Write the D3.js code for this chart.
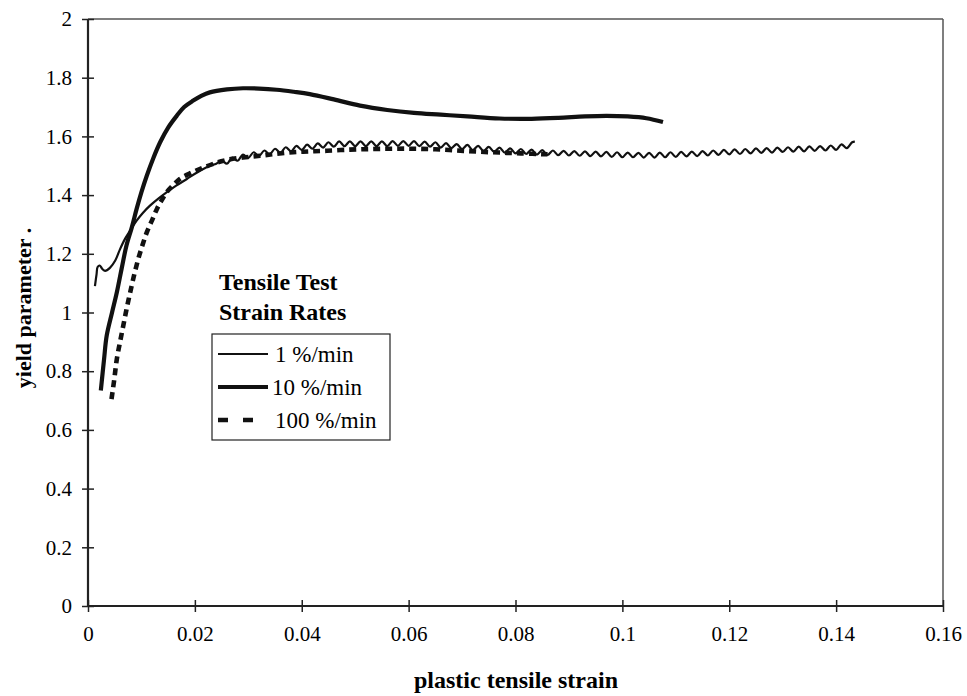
<html>
<head>
<title>Yield parameter vs plastic tensile strain</title>
<script src="https://d3js.org/d3.v7.min.js"></script>
<style>
body { margin: 0; background: #ffffff; }
svg { font-family: 'Liberation Serif', 'Times New Roman', serif; }
.tick text { font-size: 21px; fill: #000; font-family: 'Liberation Serif', 'Times New Roman', serif; }
.tick line { stroke: #222; stroke-width: 1.5px; }
.domain { display: none; }
</style>
</head>
<body>
<svg id="chart" width="967" height="696"></svg>
<script>
// axis ticks
var strainTicks = [0, 0.02, 0.04, 0.06, 0.08, 0.1, 0.12, 0.14, 0.16];
var strainTickLabels = ["0", "0.02", "0.04", "0.06", "0.08", "0.1", "0.12", "0.14", "0.16"];
var yieldTicks = [0, 0.2, 0.4, 0.6, 0.8, 1, 1.2, 1.4, 1.6, 1.8, 2];
var yieldTickLabels = ["0", "0.2", "0.4", "0.6", "0.8", "1", "1.2", "1.4", "1.6", "1.8", "2"];

var rateNames = ["1 %/min", "10 %/min", "100 %/min"];

// 1 %/min  [strain, yield parameter] - thin wavy line
var rate1 = [
  [0.0013,1.090],[0.0016,1.130],[0.0018,1.155],[0.0022,1.160],[0.0027,1.148],[0.0032,1.142],
  [0.0041,1.152],[0.0051,1.177],[0.0060,1.216],[0.0069,1.250],[0.0079,1.279],[0.0091,1.313],
  [0.0103,1.340],[0.0116,1.364],[0.0131,1.387],[0.0147,1.409],[0.0165,1.432],[0.0185,1.455],
  [0.0205,1.478],[0.0228,1.500],[0.0240,1.507],
  [0.025,1.518],[0.026,1.507],[0.027,1.528],[0.028,1.517],[0.029,1.538],[0.030,1.527],
  [0.031,1.546],[0.032,1.533],[0.033,1.552],[0.034,1.539],[0.035,1.558],[0.036,1.544],
  [0.037,1.563],[0.038,1.549],[0.039,1.568],[0.040,1.554],[0.041,1.572],[0.042,1.558],
  [0.043,1.576],[0.044,1.562],[0.045,1.580],[0.046,1.565],[0.047,1.583],[0.048,1.567],
  [0.049,1.583],[0.050,1.567],[0.051,1.583],[0.052,1.567],[0.053,1.583],[0.054,1.567],
  [0.055,1.583],[0.056,1.567],[0.057,1.584],[0.058,1.568],[0.059,1.584],[0.060,1.568],
  [0.061,1.584],[0.062,1.567],[0.063,1.582],[0.064,1.565],[0.065,1.580],[0.066,1.562],
  [0.067,1.577],[0.068,1.560],[0.069,1.574],[0.070,1.557],[0.071,1.571],[0.072,1.553],
  [0.073,1.568],[0.074,1.550],[0.075,1.564],[0.076,1.547],[0.077,1.562],[0.078,1.545],
  [0.079,1.559],[0.080,1.542],[0.081,1.557],[0.082,1.540],[0.083,1.555],[0.084,1.538],
  [0.085,1.553],[0.086,1.537],[0.087,1.552],[0.088,1.536],[0.089,1.551],[0.090,1.535],
  [0.091,1.550],[0.092,1.534],[0.093,1.549],[0.094,1.533],[0.095,1.548],[0.096,1.532],
  [0.097,1.547],[0.098,1.530],[0.099,1.546],[0.100,1.529],[0.101,1.545],[0.102,1.529],
  [0.103,1.544],[0.104,1.528],[0.105,1.544],[0.106,1.528],[0.107,1.545],[0.108,1.529],
  [0.109,1.546],[0.110,1.530],[0.111,1.547],[0.112,1.532],[0.113,1.548],[0.114,1.533],
  [0.115,1.550],[0.116,1.535],[0.117,1.552],[0.118,1.537],[0.119,1.554],[0.120,1.539],
  [0.121,1.556],[0.122,1.540],[0.123,1.557],[0.124,1.542],[0.125,1.559],[0.126,1.544],
  [0.127,1.560],[0.128,1.545],[0.129,1.562],[0.130,1.547],[0.131,1.563],[0.132,1.548],
  [0.133,1.565],[0.134,1.549],[0.135,1.566],[0.136,1.551],[0.137,1.567],[0.138,1.552],
  [0.139,1.569],[0.140,1.554],[0.141,1.573],[0.142,1.560],[0.143,1.580],[0.1435,1.582]
];

// 10 %/min - thick solid line
var rate10 = [
  [0.0024,0.734],[0.0030,0.840],[0.0035,0.921],[0.0045,1.000],[0.0054,1.069],[0.0063,1.150],
  [0.0072,1.228],[0.0082,1.290],[0.0091,1.353],[0.0100,1.410],[0.0110,1.466],[0.0122,1.525],
  [0.0135,1.580],[0.0150,1.630],[0.0166,1.670],[0.0180,1.700],[0.0197,1.722],[0.0212,1.738],
  [0.0228,1.750],[0.0260,1.760],[0.0290,1.764],[0.0320,1.763],[0.0353,1.759],[0.0385,1.752],
  [0.0415,1.744],[0.0460,1.726],[0.0509,1.705],[0.0560,1.690],[0.0610,1.680],[0.0660,1.674],
  [0.0710,1.668],[0.0770,1.661],[0.0830,1.660],[0.0880,1.663],[0.0930,1.668],[0.0970,1.670],
  [0.1010,1.668],[0.1045,1.662],[0.1076,1.649]
];

// 100 %/min - dashed line
var rate100 = [
  [0.0044,0.705],[0.0049,0.770],[0.0054,0.842],[0.0060,0.900],[0.0066,0.955],[0.0072,1.010],
  [0.0079,1.069],[0.0086,1.125],[0.0094,1.182],[0.0102,1.230],[0.0110,1.273],[0.0120,1.315],
  [0.0129,1.353],[0.0138,1.383],[0.0147,1.409],[0.0160,1.435],[0.0172,1.455],[0.0190,1.473],
  [0.0210,1.489],[0.0235,1.507],[0.0260,1.520],[0.0290,1.528],[0.0322,1.534],[0.0350,1.540],
  [0.0384,1.546],[0.0415,1.549],[0.0447,1.551],[0.0490,1.555],[0.0530,1.557],[0.0570,1.558],
  [0.0610,1.558],[0.0650,1.556],[0.0690,1.552],[0.0730,1.548],[0.0770,1.545],[0.0810,1.542],
  [0.0860,1.539]
];

var svg = d3.select("#chart");
var plotLeft = 88, plotRight = 943, plotTop = 19, plotBottom = 606;

var x = d3.scaleLinear().domain([0, 0.16]).range([plotLeft, plotRight]);
var y = d3.scaleLinear().domain([0, 2]).range([plotBottom, plotTop]);

svg.append("rect").attr("width", 967).attr("height", 696).style("fill", "#fff");

// frame: top/right lighter, left/bottom heavy
svg.append("line").attr("x1", plotLeft).attr("x2", plotRight).attr("y1", plotTop).attr("y2", plotTop)
  .style("stroke", "#555").style("stroke-width", 1.5);
svg.append("line").attr("x1", plotRight).attr("x2", plotRight).attr("y1", plotTop).attr("y2", plotBottom)
  .style("stroke", "#555").style("stroke-width", 1.5);

// x axis
var xAxis = svg.append("g")
  .attr("transform", "translate(0," + plotBottom + ")")
  .call(d3.axisBottom(x).tickValues(strainTicks)
    .tickFormat(function (d, i) { return strainTickLabels[i]; })
    .tickSize(6).tickPadding(14));
xAxis.attr("font-family", null).attr("font-size", null);
xAxis.selectAll(".tick line").attr("y1", -6);

// y axis
var yAxis = svg.append("g")
  .attr("transform", "translate(" + plotLeft + ",0)")
  .call(d3.axisLeft(y).tickValues(yieldTicks)
    .tickFormat(function (d, i) { return yieldTickLabels[i]; })
    .tickSize(6).tickPadding(10));
yAxis.attr("font-family", null).attr("font-size", null);
yAxis.selectAll(".tick line").attr("x1", 6);

svg.append("line").attr("x1", plotLeft).attr("x2", plotRight).attr("y1", plotBottom).attr("y2", plotBottom)
  .style("stroke", "#222").style("stroke-width", 2.2);
svg.append("line").attr("x1", plotLeft).attr("x2", plotLeft).attr("y1", plotTop).attr("y2", plotBottom)
  .style("stroke", "#222").style("stroke-width", 2.2);

// axis titles
svg.append("text")
  .attr("x", 516)
  .attr("y", 688)
  .attr("text-anchor", "middle")
  .style("font-size", "24px")
  .style("font-weight", "bold")
  .text("plastic tensile strain");

svg.append("text")
  .attr("transform", "translate(31,308) rotate(-90)")
  .attr("text-anchor", "middle")
  .style("font-size", "22px")
  .style("font-weight", "bold")
  .text("yield parameter  .");

// curves
var line = d3.line()
  .x(function (d) { return x(d[0]); })
  .y(function (d) { return y(d[1]); })
  .curve(d3.curveCatmullRom.alpha(0.5));

var lineStyles = [
  { data: rate1, width: 2.2, dash: null },
  { data: rate10, width: 4.2, dash: null },
  { data: rate100, width: 4.6, dash: "7,5" }
];

lineStyles.forEach(function (s) {
  svg.append("path")
    .attr("d", line(s.data))
    .style("fill", "none")
    .style("stroke", "#111")
    .style("stroke-width", s.width)
    .style("stroke-dasharray", s.dash)
    .style("stroke-linecap", "butt");
});

// legend
svg.append("text").attr("x", 219).attr("y", 290)
  .style("font-size", "24px").style("font-weight", "bold").text("Tensile Test");
svg.append("text").attr("x", 219).attr("y", 320)
  .style("font-size", "24px").style("font-weight", "bold").text("Strain Rates");

svg.append("rect")
  .attr("x", 212).attr("y", 334).attr("width", 178).attr("height", 106)
  .style("fill", "#fff").style("stroke", "#222").style("stroke-width", 1.2);

var legendRows = svg.selectAll("g.legend-row")
  .data(lineStyles)
  .enter().append("g")
  .attr("class", "legend-row")
  .attr("transform", function (d, i) { return "translate(0," + (354 + i * 33) + ")"; });

legendRows.append("line")
  .attr("x1", 218).attr("x2", 268).attr("y1", 0).attr("y2", 0)
  .style("stroke", "#111")
  .style("stroke-width", function (d) { return d.width; })
  .style("stroke-dasharray", function (d) { return d.dash ? "10,15" : null; });

legendRows.append("text")
  .attr("x", function (d, i) { return i === 1 ? 272 : 275; })
  .attr("y", 8)
  .style("font-size", "23px")
  .text(function (d, i) { return rateNames[i]; });
</script>
</body>
</html>
